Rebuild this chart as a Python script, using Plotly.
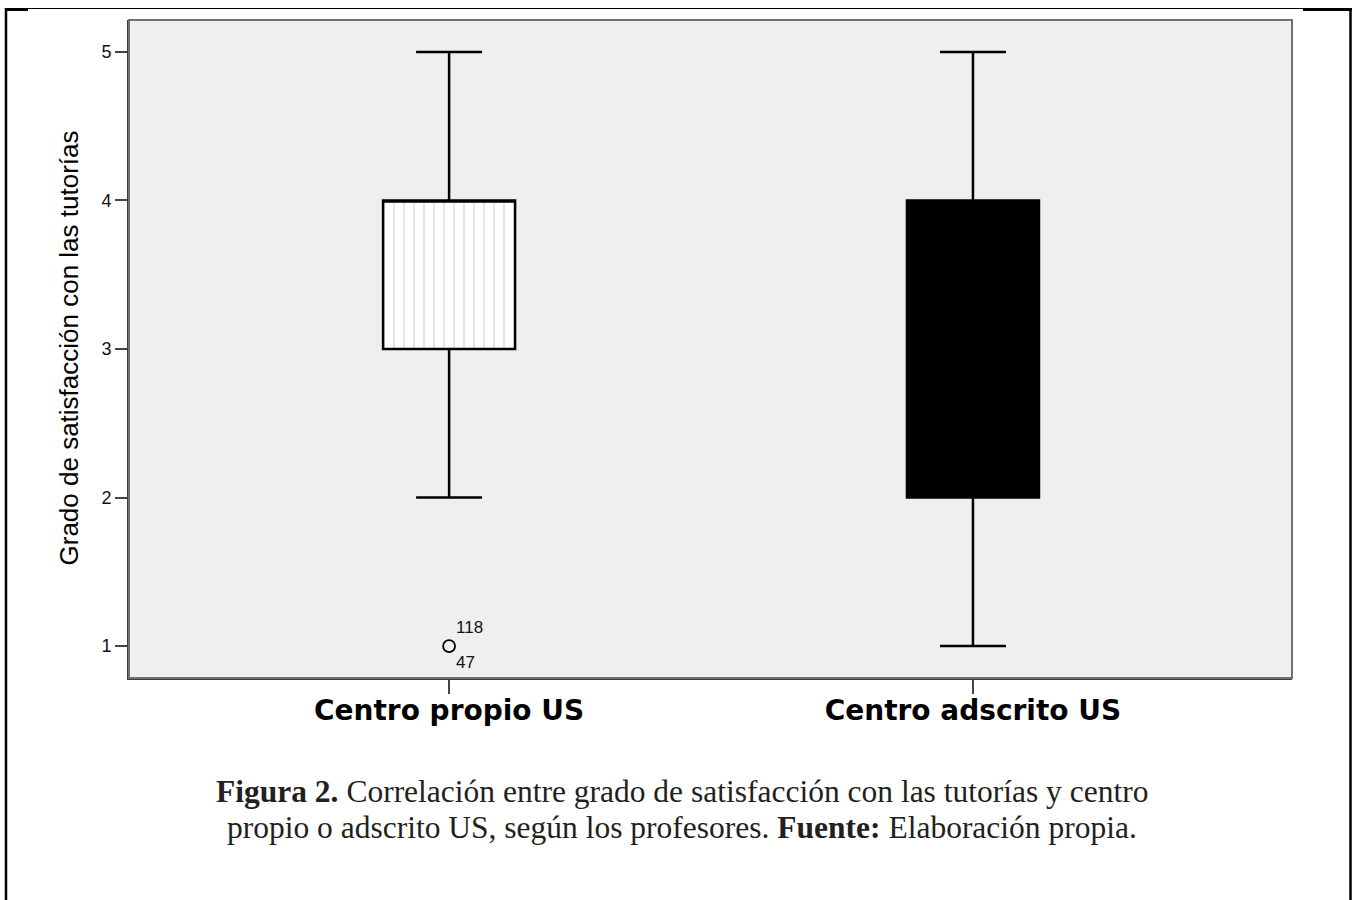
import plotly.graph_objects as go

# ---------------- data ----------------
categories = ["Centro propio US", "Centro adscrito US"]
q1 = [3, 2]
median = [4, 3]
q3 = [4, 4]
lowerfence = [2, 1]
upperfence = [5, 5]
outlier_x = ["Centro propio US"]
outlier_y = [1]
outlier_labels = ["118", "47"]
y_ticks = [1, 2, 3, 4, 5]

y_title = "Grado de satisfacción con las tutorías"
caption_lines = [
    "<b>Figura 2.</b> Correlación entre grado de satisfacción con las tutorías y centro",
    "propio o adscrito US, según los profesores. <b>Fuente:</b> Elaboración propia.",
]

# ---------------- layout geometry ----------------
W, H = 1357, 900
L, R, T, B = 129, 1292, 20, 678   # plot area in pixels
pw, ph = R - L, B - T


def px(xp):
    return (xp - L) / pw


def py(yp):
    return (B - yp) / ph


box_w = 0.252
fills = ["rgba(0,0,0,0)", "#000000"]

fig = go.Figure()

# dotted fill of first box (pattern), drawn beneath the box outline
fig.add_trace(go.Bar(
    x=[categories[0]], y=[q3[0] - q1[0]], base=[q1[0]], width=box_w,
    marker=dict(color="white", line=dict(width=0),
                pattern=dict(shape="|", fgcolor="#a8a8a8", bgcolor="white",
                             size=10, solidity=0.12)),
    hoverinfo="skip", showlegend=False))

for i, c in enumerate(categories):
    fig.add_trace(go.Box(
        x=[c], q1=[q1[i]], median=[median[i]], q3=[q3[i]],
        lowerfence=[lowerfence[i]], upperfence=[upperfence[i]],
        width=box_w, whiskerwidth=0.5, boxpoints=False,
        fillcolor=fills[i], line=dict(color="#000000", width=2.5),
        showlegend=False))

fig.add_trace(go.Scatter(
    x=outlier_x, y=outlier_y, mode="markers",
    marker=dict(symbol="circle-open", size=12, color="#000000",
                line=dict(width=1.8, color="#000000")),
    showlegend=False))

annotations = [
    dict(x=outlier_x[0], y=outlier_y[0], xref="x", yref="y", text=outlier_labels[0],
         showarrow=False, xanchor="left", yanchor="middle", xshift=5, yshift=19,
         font=dict(family="Liberation Sans, Arial", size=17, color="#111")),
    dict(x=outlier_x[0], y=outlier_y[0], xref="x", yref="y", text=outlier_labels[1],
         showarrow=False, xanchor="left", yanchor="middle", xshift=5, yshift=-16,
         font=dict(family="Liberation Sans, Arial", size=17, color="#111")),
    dict(x=px(68), y=py(348.5), xref="paper", yref="paper", text=y_title,
         textangle=-90, showarrow=False, xanchor="center", yanchor="middle",
         font=dict(family="Liberation Sans, Arial", size=26, color="#000")),
]
for k, (line, ymid) in enumerate(zip(caption_lines, [792, 827])):
    annotations.append(dict(
        x=px(682), y=py(ymid), xref="paper", yref="paper", text=line,
        showarrow=False, xanchor="center", yanchor="middle", align="center",
        font=dict(family="Liberation Serif, Times New Roman, serif", size=31.5, color="#231f20")))

shapes = [
    # plot frame (top/right lighter)
    dict(type="rect", xref="paper", yref="paper", x0=0, x1=1, y0=0, y1=1,
         line=dict(color="#707070", width=2), layer="above"),
    # outer page border
    dict(type="line", xref="paper", yref="paper", x0=px(6), x1=px(6), y0=py(8), y1=py(905),
         line=dict(color="#000", width=2.5)),
    dict(type="line", xref="paper", yref="paper", x0=px(1350.5), x1=px(1350.5), y0=py(8), y1=py(905),
         line=dict(color="#000", width=2.5)),
    dict(type="line", xref="paper", yref="paper", x0=px(5), x1=px(1352), y0=py(8.5), y1=py(8.5),
         line=dict(color="#000", width=1)),
    dict(type="line", xref="paper", yref="paper", x0=px(5), x1=px(28), y0=py(10), y1=py(10),
         line=dict(color="#000", width=2)),
    dict(type="line", xref="paper", yref="paper", x0=px(1303), x1=px(1352), y0=py(10), y1=py(10),
         line=dict(color="#000", width=2)),
]

fig.update_layout(
    width=W, height=H,
    margin=dict(l=L, r=W - R, t=T, b=H - B, pad=0),
    paper_bgcolor="white", plot_bgcolor="#efefef",
    showlegend=False, barmode="overlay",
    annotations=annotations, shapes=shapes,
    xaxis=dict(type="category", categoryorder="array", categoryarray=categories,
               range=[-0.611, 1.609], showgrid=False, zeroline=False,
               showline=True, linecolor="#3c3c3c", linewidth=2,
               ticks="outside", ticklen=14, tickwidth=2, tickcolor="#444",
               tickfont=dict(family="DejaVu Sans, Liberation Sans, Arial", size=28,
                             color="#000", weight="bold"),
               ticklabelstandoff=-8),
    yaxis=dict(range=[0.785, 5.215], tickvals=y_ticks, showgrid=False, zeroline=False,
               showline=True, linecolor="#3c3c3c", linewidth=2,
               ticks="outside", ticklen=12, tickwidth=2, tickcolor="#444",
               tickfont=dict(family="Liberation Sans, Arial", size=18, color="#111")),
)

fig.write_html("out.html", config={"displayModeBar": False},
               post_script="document.body.style.margin='0';")
